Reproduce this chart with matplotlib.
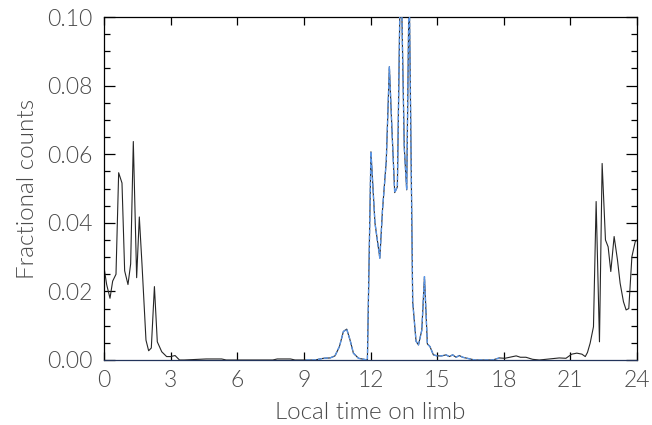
import matplotlib
matplotlib.use("Agg")
import matplotlib.pyplot as plt
from matplotlib.ticker import MultipleLocator

# Black (all) series: local time (hours) and fractional counts
hours = [0.00, 0.12, 0.27, 0.39, 0.54, 0.66, 0.81, 0.93, 1.08, 1.20, 1.32, 1.47,
         1.59, 1.71, 1.89, 2.01, 2.13, 2.27, 2.40, 2.60, 2.82, 3.00, 3.20, 3.40,
         3.60, 4.60, 4.80, 5.30, 5.50, 7.60, 7.80, 8.40, 8.60, 9.10, 9.50, 9.88,
         10.18, 10.40, 10.60, 10.78, 10.93, 11.08, 11.23, 11.46, 11.86, 12.02,
         12.20, 12.42, 12.54, 12.71, 12.85, 12.96, 13.09, 13.21, 13.36, 13.52,
         13.63, 13.74, 13.90, 14.05, 14.16, 14.31, 14.43, 14.56, 14.68, 14.83,
         15.00, 15.20, 15.40, 15.55, 15.70, 15.85, 16.00, 16.15, 16.35, 16.70,
         17.50, 17.80, 18.05, 18.56, 18.75, 19.00, 19.30, 19.60, 20.50, 20.80,
         21.06, 21.29, 21.52, 21.67, 21.77, 21.89, 22.04, 22.16, 22.31, 22.43,
         22.58, 22.70, 22.82, 22.97, 23.12, 23.24, 23.39, 23.51, 23.63, 23.77,
         23.92, 24.00]
counts = [0.0270, 0.0220, 0.0180, 0.0230, 0.0250, 0.0546, 0.0516, 0.0260, 0.0220,
          0.0280, 0.0637, 0.0240, 0.0417, 0.0280, 0.0058, 0.0027, 0.0035, 0.0214,
          0.0053, 0.0024, 0.0010, 0.0010, 0.0013, 0.0000, 0.0000, 0.0003, 0.0003,
          0.0003, 0.0000, 0.0000, 0.0003, 0.0003, 0.0000, 0.0000, 0.0000, 0.0005,
          0.0006, 0.0012, 0.0039, 0.0083, 0.0090, 0.0058, 0.0020, 0.0005, 0.0000,
          0.0607, 0.0400, 0.0297, 0.0437, 0.0580, 0.0855, 0.0680, 0.0488, 0.0505,
          0.1200, 0.0620, 0.0496, 0.1110, 0.0170, 0.0055, 0.0044, 0.0087, 0.0243,
          0.0047, 0.0039, 0.0015, 0.0012, 0.0012, 0.0015, 0.0010, 0.0015, 0.0008,
          0.0013, 0.0008, 0.0005, 0.0000, 0.0000, 0.0006, 0.0005, 0.0012, 0.0008,
          0.0008, 0.0002, 0.0000, 0.0006, 0.0005, 0.0017, 0.0020, 0.0017, 0.0010,
          0.0022, 0.0049, 0.0097, 0.0462, 0.0053, 0.0573, 0.0350, 0.0330, 0.0258,
          0.0360, 0.0292, 0.0224, 0.0170, 0.0146, 0.0150, 0.0301, 0.0345, 0.0350]

# Blue (dayside subset) window
blue_start, blue_end = 9.0, 18.0

xticks = [0, 3, 6, 9, 12, 15, 18, 21, 24]
xlabel = "Local time on limb"
ylabel = "Fractional counts"

plt.rcParams["font.family"] = ["Lato", "DejaVu Sans"]
weight = 300
fs = 16.5
fs_lab = 17.5

text_color = "#4a4a4a"
fig = plt.figure(figsize=(6.52, 4.25), dpi=100)
ax = fig.add_axes([104/652, 65/425, 533/652, 343/425])

ax.plot(hours, counts, color="#262626", lw=0.8, zorder=2)
bh = [h for h in hours if blue_start <= h <= blue_end]
bc = [c for h, c in zip(hours, counts) if blue_start <= h <= blue_end]
ax.plot(bh, bc, color="#5a95e6", lw=1.0, dashes=(3.0, 1.3), zorder=3)

ax.set_xlim(0, 24)
ax.set_ylim(0, 0.10)
ax.set_xticks(xticks)
ax.xaxis.set_major_formatter(plt.FuncFormatter(lambda v, p: f"{int(v)}"))
ax.yaxis.set_major_locator(MultipleLocator(0.02))
ax.yaxis.set_minor_locator(MultipleLocator(0.005))
ax.yaxis.set_major_formatter(plt.FuncFormatter(lambda v, p: f"{v:.2f}"))

ax.tick_params(axis="x", which="major", direction="in", length=5.5, width=0.9,
               top=True, bottom=True, labelsize=fs, labelcolor=text_color, pad=7)
ax.tick_params(axis="y", which="major", direction="in", length=8, width=0.9,
               left=True, right=True, labelsize=fs, labelcolor=text_color, pad=8)
ax.tick_params(axis="y", which="minor", direction="in", length=4.3, width=0.9,
               left=True, right=True)
for lab in ax.get_xticklabels() + ax.get_yticklabels():
    lab.set_fontweight(weight)
for s in ax.spines.values():
    s.set_linewidth(0.9)
    s.set_color("black")
ax.spines["bottom"].set_color("#22335a")

ax.set_xlabel(xlabel, fontsize=fs_lab, color=text_color, labelpad=8, fontweight=weight)
ax.set_ylabel(ylabel, fontsize=fs_lab, color=text_color, labelpad=7, fontweight=weight)

fig.savefig("out.png", dpi=100)
